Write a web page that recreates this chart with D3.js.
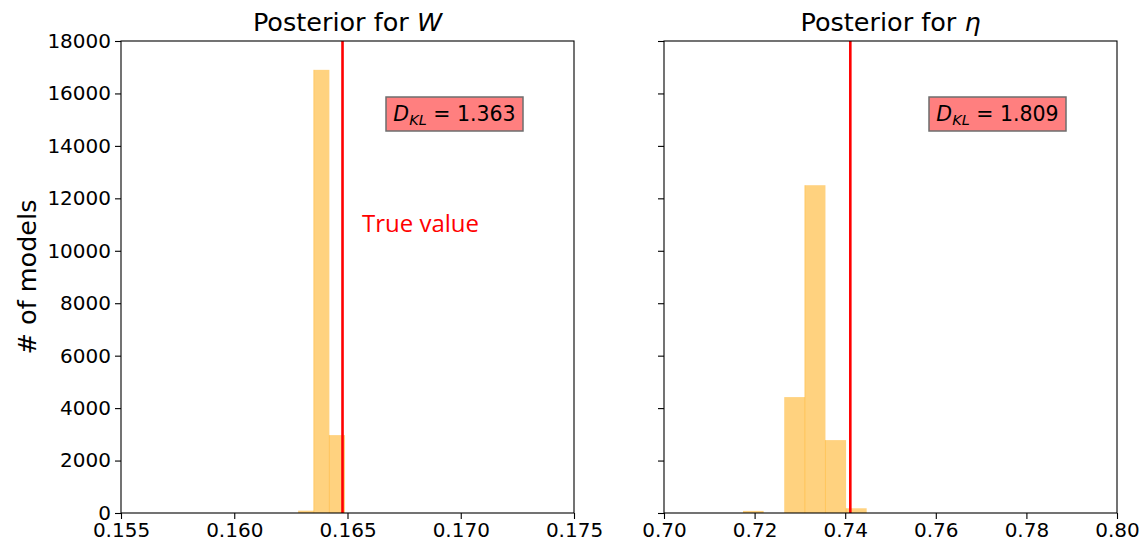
<!DOCTYPE html>
<html>
  <head>
    <title>Posteriors</title>
    <script src="https://d3js.org/d3.v7.min.js"></script>
    <style>
      body { margin: 0; background: #fff; }
      text { font-family: "DejaVu Sans", sans-serif; }
    </style>
  </head>
  <body>
    <div id="chart"></div>
    <script>
      // histogram bins (edges) and counts for each parameter
      var wEdges = [0.16282, 0.16351, 0.16420, 0.16489];
      var wCounts = [90, 16900, 2970];
      var etaEdges = [0.71744, 0.72199, 0.72654, 0.73109, 0.73564, 0.74019, 0.74474];
      var etaCounts = [80, 0, 4420, 12500, 2780, 180];
      var wTrue = 0.16478;
      var etaTrue = 0.74113;
      var dklValues = ["1.363", "1.809"];
      var wTicks = [0.155, 0.160, 0.165, 0.170, 0.175];
      var etaTicks = [0.70, 0.72, 0.74, 0.76, 0.78, 0.80];
      var countTicks = [0, 2000, 4000, 6000, 8000, 10000, 12000, 14000, 16000, 18000];

      var width = 1143, height = 544;
      var plotTop = 41, plotBottom = 513, panelW = 453;

      var svg = d3.select('#chart')
        .append('svg')
        .attr('width', width)
        .attr('height', height);

      var y = d3.scaleLinear().domain([0, 18000]).range([plotBottom, plotTop]);

      var panels = [
        { left: 121, domain: [0.155, 0.175], ticks: wTicks, fmt: d3.format('.3f'),
          edges: wEdges, counts: wCounts, truth: wTrue, dkl: dklValues[0],
          symbol: 'W', boxX: 386, labels: true },
        { left: 664, domain: [0.70, 0.80], ticks: etaTicks, fmt: d3.format('.2f'),
          edges: etaEdges, counts: etaCounts, truth: etaTrue, dkl: dklValues[1],
          symbol: '\u03b7', boxX: 929, labels: false }
      ];

      panels.forEach(function (p) {
        var x = d3.scaleLinear().domain(p.domain).range([p.left, p.left + panelW]);
        var g = svg.append('g');

        var bins = p.counts.map(function (c, i) {
          return { x0: p.edges[i], x1: p.edges[i + 1], n: c };
        });

        g.selectAll('rect.bar')
          .data(bins)
          .enter().append('rect')
          .attr('class', 'bar')
          .attr('x', function (d) { return x(d.x0); })
          .attr('width', function (d) { return x(d.x1) - x(d.x0); })
          .attr('y', function (d) { return y(d.n); })
          .attr('height', function (d) { return y(0) - y(d.n); })
          .style('fill', 'orange')
          .style('fill-opacity', 0.5);

        // faint seams where neighbouring bars meet
        g.selectAll('line.seam')
          .data(bins.slice(1).filter(function (d, i) { return d.n > 0 && bins[i].n > 0; }))
          .enter().append('line')
          .attr('class', 'seam')
          .attr('x1', function (d) { return x(d.x0); })
          .attr('x2', function (d) { return x(d.x0); })
          .attr('y1', function (d, i) { return y(d.n); })
          .attr('y2', plotBottom)
          .style('stroke', 'orange')
          .style('stroke-opacity', 0.35)
          .style('stroke-width', 1);

        // true value marker
        g.append('line')
          .attr('x1', x(p.truth)).attr('x2', x(p.truth))
          .attr('y1', plotTop).attr('y2', plotBottom)
          .style('stroke', 'red')
          .style('stroke-width', 2.6);

        // axes
        var xAxis = d3.axisBottom(x).tickValues(p.ticks).tickFormat(p.fmt)
          .tickSize(6).tickPadding(4);
        var gx = g.append('g').attr('transform', 'translate(0,' + plotBottom + ')').call(xAxis);
        gx.select('.domain').remove();
        gx.selectAll('text').style('font-size', '20px').style('fill', '#000');

        var yAxis = d3.axisLeft(y).tickValues(countTicks).tickFormat(d3.format('d'))
          .tickSize(6).tickPadding(4);
        if (!p.labels) yAxis.tickFormat('');
        var gy = g.append('g').attr('transform', 'translate(' + p.left + ',0)').call(yAxis);
        gy.select('.domain').remove();
        gy.selectAll('text').style('font-size', '20px').style('fill', '#000');
        g.selectAll('.tick line').style('stroke', '#000').style('stroke-width', 1.1);

        // frame
        g.append('rect')
          .attr('x', p.left).attr('y', plotTop)
          .attr('width', panelW).attr('height', plotBottom - plotTop)
          .style('fill', 'none').style('stroke', '#000').style('stroke-width', 1.1);

        // title
        var t = g.append('text')
          .attr('x', p.left + panelW / 2).attr('y', 31)
          .attr('text-anchor', 'middle')
          .style('font-size', '25.5px');
        t.append('tspan').text('Posterior for ');
        t.append('tspan').style('font-style', 'italic').text(p.symbol);

        // KL divergence box
        g.append('rect')
          .attr('x', p.boxX).attr('y', 97)
          .attr('width', 137).attr('height', 34)
          .style('fill', '#ff7f7f')
          .style('stroke', '#6e6e6e').style('stroke-width', 1.5);
        var k = g.append('text')
          .attr('x', p.boxX + 68.5).attr('y', 121)
          .attr('text-anchor', 'middle')
          .style('font-size', '20.5px');
        k.append('tspan').style('font-style', 'italic').text('D');
        k.append('tspan').style('font-style', 'italic').style('font-size', '14.5px')
          .attr('dy', 4).text('KL');
        k.append('tspan').attr('dy', -4).text(' = ' + p.dkl);
      });

      svg.append('text')
        .attr('x', 362).attr('y', 232)
        .style('font-family', '"Open Sans", sans-serif')
        .style('font-size', '24px')
        .style('fill', 'red')
        .text('True value');

      svg.append('text')
        .attr('transform', 'translate(36,277) rotate(-90)')
        .attr('text-anchor', 'middle')
        .style('font-size', '25.5px')
        .text('# of models');
    </script>
  </body>
</html>
